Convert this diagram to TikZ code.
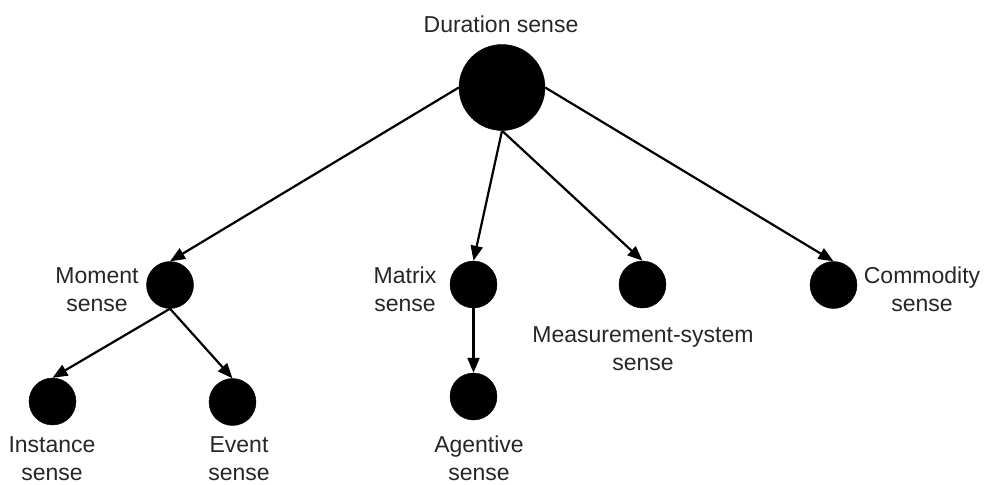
\documentclass[tikz,border=0pt]{standalone}
\usepackage{fontspec}
\setmainfont{Liberation Sans}
\usetikzlibrary{arrows.meta}
\begin{document}
\begin{tikzpicture}[x=1pt,y=-1pt,
  bigdot/.style={circle,fill=black,draw=black,minimum size=86pt,inner sep=0pt},
  dot/.style={circle,fill=black,draw=black,minimum size=47pt,inner sep=0pt},
  lbl/.style={font=\fontsize{23}{28}\selectfont,align=center,inner sep=0pt,text=black!85},
  link/.style={line width=2.2pt,-{Triangle[length=15pt,width=12pt]}}]
\useasboundingbox (0,0) rectangle (984,484);
\node[bigdot] (dur) at (502,87.5) {};
\node[dot] (mom) at (170,285) {};
\node[dot] (mat) at (473.5,284.5) {};
\node[dot] (mea) at (642.5,284.5) {};
\node[dot] (com) at (833.5,285) {};
\node[dot] (ins) at (52.5,401.5) {};
\node[dot] (eve) at (232.5,402) {};
\node[dot] (age) at (473.5,396.5) {};
% base anchor = baseline of the last line
\node[lbl,anchor=base] (tdur) at (501,33) {Duration sense};
\node[lbl,anchor=base] (tmom) at (97,311) {Moment\\sense};
\node[lbl,anchor=base] (tmat) at (405,311) {Matrix\\sense};
\node[lbl,anchor=base] (tmea) at (643,370) {Measurement-system\\sense};
\node[lbl,anchor=base] (tcom) at (922,311) {Commodity\\sense};
\node[lbl,anchor=base] (tins) at (52,480) {Instance\\sense};
\node[lbl,anchor=base] (teve) at (239,480) {Event\\sense};
\node[lbl,anchor=base] (tage) at (479,480) {Agentive\\sense};
\draw[link] (dur.west) -- (mom.north);
\draw[link] (dur.south) -- (mat.north);
\draw[link] (dur.south) -- (mea.north);
\draw[link] (dur.east) -- (com.north);
\draw[link] (mom.south) -- (ins.north);
\draw[link] (mom.south) -- (eve.north);
\draw[link] (mat.south) -- (age.north);
\end{tikzpicture}
\end{document}
